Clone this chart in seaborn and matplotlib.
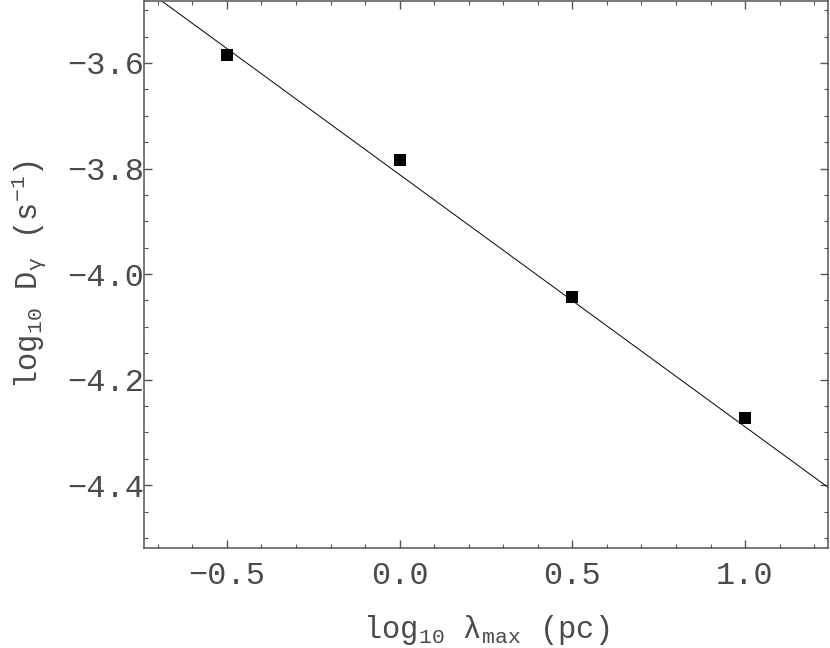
import numpy as np
import pandas as pd
import seaborn as sns
import matplotlib.pyplot as plt
from matplotlib.ticker import MultipleLocator

# data
log_lambda = [-0.5, 0.0, 0.5, 1.0]
log_D = [-3.585, -3.784, -4.044, -4.273]

# end points of the fitted straight line
fit_x = [-0.74, 1.24]
fit_y = [-3.458, -4.404]

sns.set_style("ticks")
plt.rcParams['font.family'] = ['Liberation Mono', 'DejaVu Sans']
plt.rcParams['mathtext.fontset'] = 'custom'
plt.rcParams['mathtext.rm'] = 'Liberation Mono'
plt.rcParams['mathtext.it'] = 'Liberation Mono'
plt.rcParams['mathtext.default'] = 'regular'

grey = '#4a4a4a'
frame = '#555555'

fig = plt.figure(figsize=(8.3, 6.48), dpi=100)
ax = fig.add_axes([0.1735, 0.1543, 0.8241, 0.8442])

df = pd.DataFrame({'x': log_lambda, 'y': log_D})
line_df = pd.DataFrame({'x': fit_x, 'y': fit_y})

sns.lineplot(data=line_df, x='x', y='y', color='black', linewidth=0.7, ax=ax)
sns.scatterplot(data=df, x='x', y='y', marker='s', s=80, color='black',
                edgecolor='black', linewidth=0, ax=ax, zorder=3)

ax.set_xlim(-0.74, 1.24)
ax.set_ylim(-4.519, -3.4825)

ax.xaxis.set_major_locator(MultipleLocator(0.5))
ax.xaxis.set_minor_locator(MultipleLocator(0.1))
ax.yaxis.set_major_locator(MultipleLocator(0.2))
ax.yaxis.set_minor_locator(MultipleLocator(0.05))
fmt = plt.FuncFormatter(lambda v, p: f'{v:.1f}'.replace('-', '\u2212'))
ax.xaxis.set_major_formatter(fmt)
ax.yaxis.set_major_formatter(fmt)

ax.tick_params(which='both', direction='in', top=True, right=True,
               color=frame, labelcolor=grey, labelsize=23)
ax.tick_params(which='major', length=6, width=1.0)
ax.tick_params(which='minor', length=3, width=0.8)
ax.tick_params(axis='x', which='major', pad=9)
ax.tick_params(axis='y', which='major', pad=0)

for s in ax.spines.values():
    s.set_color(frame)
    s.set_linewidth(1.1)

ax.set_xlabel('log$_{10}$ λ$_{max}$ (pc)', fontsize=22, color=grey, labelpad=16)
ax.set_ylabel('log$_{10}$ D$_{γ}$ (s$^{-1}$)', fontsize=22, color=grey, labelpad=14)

fig.savefig('out.png', dpi=100)
